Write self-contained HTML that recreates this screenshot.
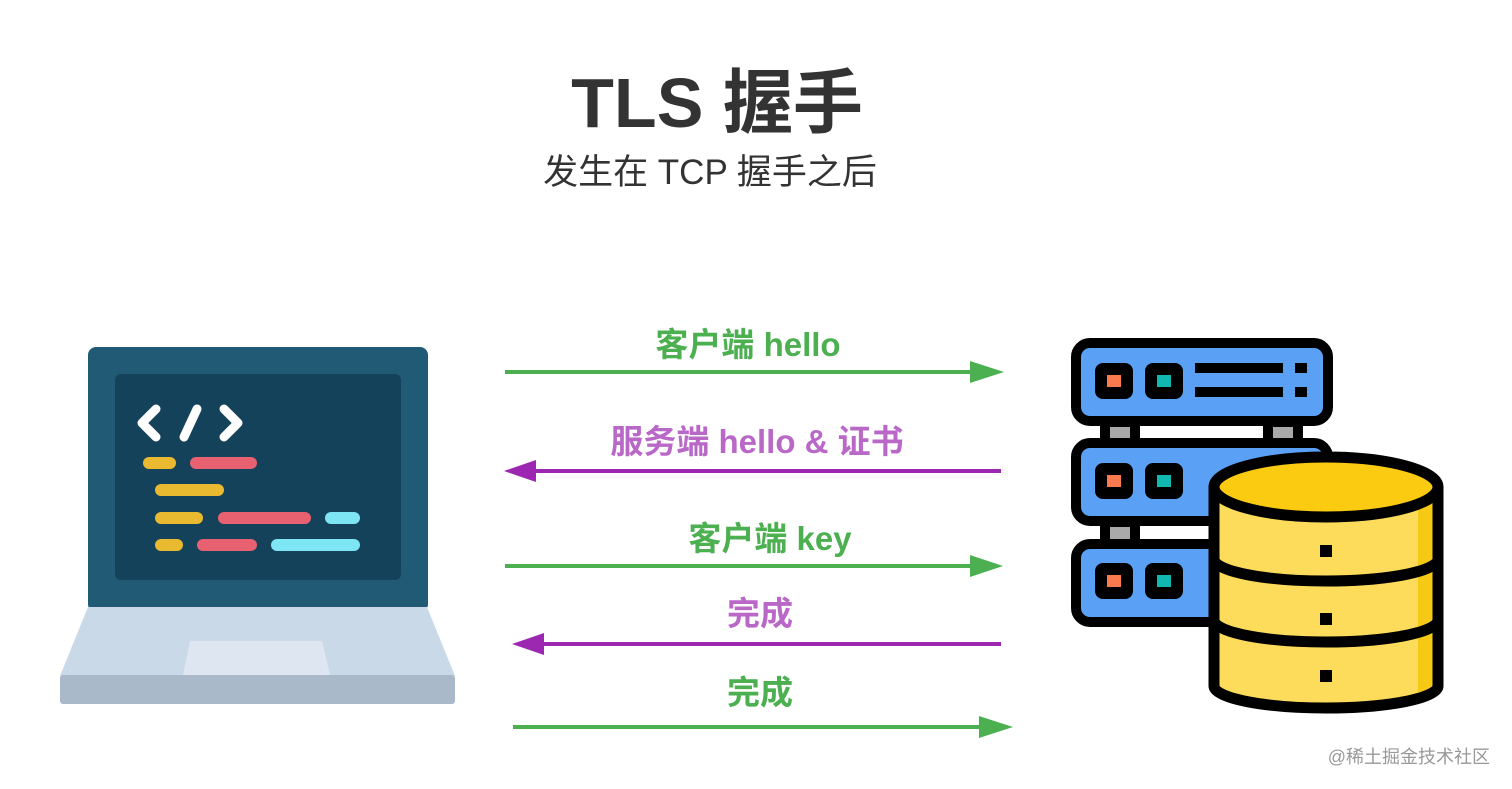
<!DOCTYPE html>
<html><head><meta charset="utf-8"><style>
html,body{margin:0;padding:0;background:#fff;width:1512px;height:789px;overflow:hidden}
svg{display:block}
text{font-family:"Liberation Sans","Noto Sans CJK SC",sans-serif}
</style></head><body>
<svg width="1512" height="789" viewBox="0 0 1512 789" xmlns="http://www.w3.org/2000/svg">
<text x="717" y="127" text-anchor="middle" font-size="70" font-weight="bold" fill="#333">TLS 握手</text>
<text x="710" y="184" text-anchor="middle" font-size="35" fill="#333">发生在 TCP 握手之后</text>

<!-- laptop -->
<rect x="88" y="347" width="340" height="265" rx="8" fill="#215a75"/>
<rect x="115" y="374" width="286" height="206" rx="6" fill="#14425a"/>
<path d="M88 607 L427 607 L455 676 L60 676 Z" fill="#c9d9e8"/>
<path d="M190 641 L322 641 L330 675 L183 675 Z" fill="#dde6f1"/>
<rect x="60" y="675" width="395" height="29" rx="3" fill="#aab9c9"/>
<g stroke="#fff" stroke-width="9" stroke-linecap="round" stroke-linejoin="round" fill="none">
<path d="M156 409 L142 423 L156 437"/>
<path d="M197 409 L184 437"/>
<path d="M224 409 L238 423 L224 437"/>
</g>
<g stroke-width="12" stroke-linecap="round">
<line x1="149" y1="463" x2="170" y2="463" stroke="#e9b930"/>
<line x1="196" y1="463" x2="251" y2="463" stroke="#e86171"/>
<line x1="161" y1="490" x2="218" y2="490" stroke="#e9b930"/>
<line x1="161" y1="518" x2="197" y2="518" stroke="#e9b930"/>
<line x1="224" y1="518" x2="305" y2="518" stroke="#e86171"/>
<line x1="331" y1="518" x2="354" y2="518" stroke="#7ee5f5"/>
<line x1="161" y1="545" x2="177" y2="545" stroke="#e9b930"/>
<line x1="203" y1="545" x2="251" y2="545" stroke="#e86171"/>
<line x1="277" y1="545" x2="354" y2="545" stroke="#7ee5f5"/>
</g>

<!-- arrows -->
<g stroke-width="4">
<line x1="505" y1="372" x2="975" y2="372" stroke="#4caf50"/>
<polygon points="970,361 1004,372 970,383" fill="#4caf50" stroke="none"/>
<line x1="535" y1="471" x2="1001" y2="471" stroke="#9c27b0"/>
<polygon points="536,460 504,471 536,482" fill="#9c27b0" stroke="none"/>
<line x1="505" y1="566" x2="975" y2="566" stroke="#4caf50"/>
<polygon points="970,555 1003,566 970,577" fill="#4caf50" stroke="none"/>
<line x1="543" y1="644" x2="1001" y2="644" stroke="#9c27b0"/>
<polygon points="544,633 512,644 544,655" fill="#9c27b0" stroke="none"/>
<line x1="513" y1="727" x2="985" y2="727" stroke="#4caf50"/>
<polygon points="979,716 1013,727 979,738" fill="#4caf50" stroke="none"/>
</g>
<g font-size="33" font-weight="bold" text-anchor="middle">
<text x="748" y="356" fill="#4caf50">客户端 hello</text>
<text x="757" y="453" fill="#ba68c8">服务端 hello &amp; 证书</text>
<text x="770" y="550" fill="#4caf50">客户端 key</text>
<text x="760" y="625" fill="#ba68c8">完成</text>
<text x="760" y="704" fill="#4caf50">完成</text>
</g>

<!-- server -->
<g stroke="#000" stroke-width="10">
<rect x="1105" y="422" width="30" height="22" fill="#aaa"/>
<rect x="1268" y="422" width="30" height="22" fill="#aaa"/>
<rect x="1105" y="522" width="30" height="22" fill="#aaa"/>
<rect x="1076" y="343" width="252" height="78" rx="14" fill="#5aa0f5"/>
<rect x="1076" y="443" width="252" height="78" rx="14" fill="#5aa0f5"/>
<rect x="1076" y="544" width="252" height="78" rx="14" fill="#5aa0f5"/>
</g>
<g fill="#000">
<rect x="1095" y="363" width="38" height="36" rx="8"/><rect x="1145" y="363" width="38" height="36" rx="8"/>
<rect x="1095" y="463" width="38" height="36" rx="8"/><rect x="1145" y="463" width="38" height="36" rx="8"/>
<rect x="1095" y="563" width="38" height="36" rx="8"/><rect x="1145" y="563" width="38" height="36" rx="8"/>
<rect x="1195" y="363" width="88" height="10"/><rect x="1195" y="387" width="88" height="10"/>
<rect x="1295" y="363" width="12" height="10"/><rect x="1295" y="387" width="12" height="10"/>
</g>
<g fill="#fa7a50"><rect x="1107" y="375" width="14" height="12"/><rect x="1107" y="475" width="14" height="12"/><rect x="1107" y="575" width="14" height="12"/></g>
<g fill="#10b8b0"><rect x="1157" y="375" width="14" height="12"/><rect x="1157" y="475" width="14" height="12"/><rect x="1157" y="575" width="14" height="12"/></g>

<path d="M1214 487 L1214 686 A112 22 0 0 0 1438 686 L1438 487 Z" fill="#fcdc5a"/>
<path d="M1418 487 L1418 700 A112 22 0 0 0 1438 686 L1438 487 Z" fill="#f6c915"/>
<path d="M1214 487 L1214 686 A112 22 0 0 0 1438 686 L1438 487" fill="none" stroke="#000" stroke-width="11"/>
<path d="M1214 559 A112 22 0 0 0 1438 559" fill="none" stroke="#000" stroke-width="11"/>
<path d="M1214 620 A112 22 0 0 0 1438 620" fill="none" stroke="#000" stroke-width="11"/>
<ellipse cx="1326" cy="487" rx="112" ry="30" fill="#facb10" stroke="#000" stroke-width="11"/>
<g fill="#000"><rect x="1320" y="545" width="12" height="12"/><rect x="1320" y="613" width="12" height="12"/><rect x="1320" y="670" width="12" height="12"/></g>

<text x="1490" y="763" text-anchor="end" font-size="18" fill="#999">@稀土掘金技术社区</text>
</svg>
</body></html>
